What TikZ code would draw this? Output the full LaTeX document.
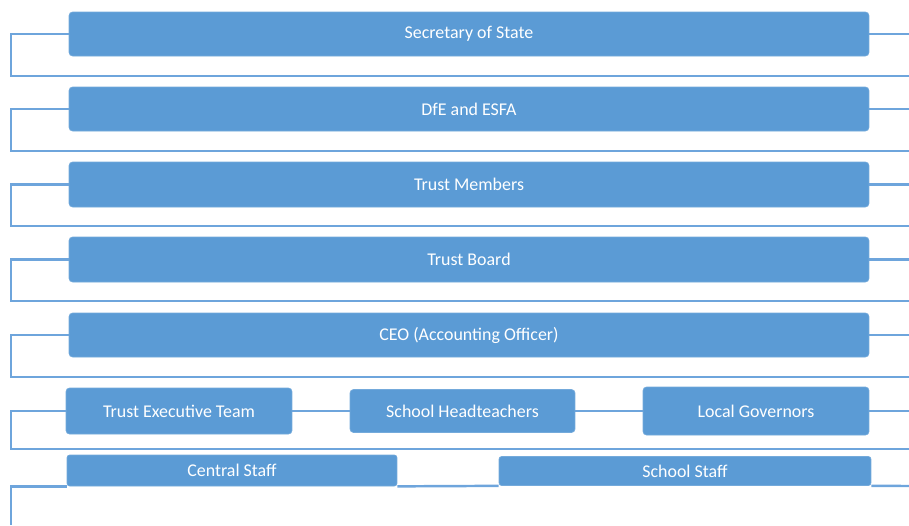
\documentclass[tikz,border=0pt]{standalone}
\usepackage{fontspec}
\setmainfont{Carlito}
\usepackage{tikz}
\usetikzlibrary{positioning}
\definecolor{boxblue}{RGB}{91,155,213}
\definecolor{lineblue}{RGB}{110,165,220}

\tikzset{
  box/.style={rectangle, rounded corners=2pt, fill=boxblue, draw=boxblue!85!white,
    text=white, inner sep=0pt, font=\fontsize{10.2}{11}\selectfont},
  link/.style={draw=lineblue, line width=1.4pt}
}

\begin{document}
\begin{tikzpicture}[x=0.02cm, y=-0.02cm]
\useasboundingbox (0,0) rectangle (909,525);

% Row 1 - secretary of state
\node[box, minimum width=16cm, minimum height=0.88cm] (sos) at (469,34) {Secretary of State};
\coordinate (l1) at (11,76);
\coordinate (r1) at (909,76);
\draw[link] (sos.west) -| (l1) -- (r1);
\draw[link] (sos.east) -- (sos.east -| r1);

% Row 2 - DfE and ESFA
\node[box, minimum width=16cm, minimum height=0.88cm] (dfe) at (469,109) {DfE and ESFA};
\coordinate (l2) at (11,151);
\coordinate (r2) at (909,151);
\draw[link] (dfe.west) -| (l2) -- (r2);
\draw[link] (dfe.east) -- (dfe.east -| r2);

% Row 3 - trust members
\node[box, minimum width=16cm, minimum height=0.9cm] (members) at (469,184.5) {Trust Members};
\coordinate (l3) at (11,226);
\coordinate (r3) at (909,226);
\draw[link] (members.west) -| (l3) -- (r3);
\draw[link] (members.east) -- (members.east -| r3);

% Row 4 - trust board
\node[box, minimum width=16cm, minimum height=0.9cm] (board) at (469,259.5) {Trust Board};
\coordinate (l4) at (11,301);
\coordinate (r4) at (909,301);
\draw[link] (board.west) -| (l4) -- (r4);
\draw[link] (board.east) -- (board.east -| r4);

% Row 5 - CEO
\node[box, minimum width=16cm, minimum height=0.88cm] (ceo) at (469,335) {CEO (Accounting Officer)};
\coordinate (l5) at (11,377);
\coordinate (r5) at (909,377);
\draw[link] (ceo.west) -| (l5) -- (r5);
\draw[link] (ceo.east) -- (ceo.east -| r5);

% Row 6 - executive team, headteachers, governors
\node[box, minimum width=4.52cm, minimum height=0.92cm] (exec) at (179,411) {Trust Executive Team};
\node[box, minimum width=4.5cm, minimum height=0.86cm] (heads) at (462.5,411) {School Headteachers};
\node[box, minimum width=4.52cm, minimum height=0.96cm] (gov) at (756,411) {Local Governors};
\coordinate (l6) at (11,449);
\coordinate (r6) at (909,449);
\draw[link] (exec.west) -| (l6) -- (r6);
\draw[link] (exec.east) -- (heads.west);
\draw[link] (heads.east) -- (gov.west);
\draw[link] (gov.east) -- (gov.east -| r6);

% Row 7 - staff
\node[box, rounded corners=1.5pt, minimum width=6.6cm, minimum height=0.62cm] (central) at (232,470.5) {Central Staff};
\node[box, rounded corners=1.5pt, minimum width=7.44cm, minimum height=0.58cm] (staff) at (685,471) {School Staff};
\coordinate (l7) at (11,525);
\coordinate (r7) at (909,486);
\draw[link] (central.south west) -| (l7);
\draw[link] (central.south east) -- (staff.south west);
\draw[link] (staff.south east) -- (r7);

% Note: bottom bracket runs off the page
\end{tikzpicture}
\end{document}
